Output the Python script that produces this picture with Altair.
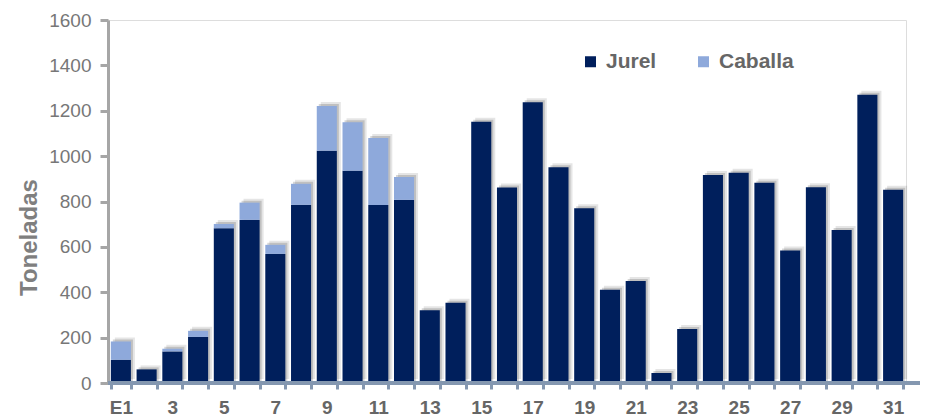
import altair as alt
import pandas as pd

days = ["E1", "2", "3", "4", "5", "6", "7", "8", "9", "10", "11", "12", "13", "14", "15", "16",
        "17", "18", "19", "20", "21", "22", "23", "24", "25", "26", "27", "28", "29", "30", "31"]
jurel = [102, 60, 139, 203, 682, 719, 569, 785, 1024, 935, 785, 807, 321, 354, 1151, 862,
         1237, 951, 770, 411, 450, 44, 238, 917, 927, 883, 584, 863, 674, 1271, 852]
caballa = [81, 0, 12, 27, 19, 76, 40, 93, 197, 214, 295, 101, 0, 0, 0, 0,
           0, 0, 0, 0, 0, 0, 0, 0, 0, 0, 0, 0, 0, 0, 0]
species = ["Jurel", "Caballa"]
colors = ["#001F5C", "#8EA9DB"]
yticks = [0, 200, 400, 600, 800, 1000, 1200, 1400, 1600]

rows = []
for d, j, c in zip(days, jurel, caballa):
    rows.append({"dia": d, "especie": "Jurel", "ton": j, "ord": 0})
    rows.append({"dia": d, "especie": "Caballa", "ton": c, "ord": 1})
df = pd.DataFrame(rows)
tot = pd.DataFrame({"dia": days, "total": [j + c for j, c in zip(jurel, caballa)]})

W, H = 798, 363
FONT = "Liberation Sans"

xscale = alt.Scale(domain=days, paddingInner=0.22, paddingOuter=0.11)
yscale = alt.Scale(domain=[0, 1600])

xaxis = alt.Axis(
    title=None, labelAngle=0, tickBand="extent",
    labelExpr="test(regexp('[13579]$'), datum.label) ? datum.label : ''",
    labelFont=FONT, labelFontSize=19, labelFontWeight="bold", labelColor="#666666",
    labelPadding=9, domainColor="#8497B0", domainWidth=3,
    tickColor="#8497B0", tickWidth=3, tickSize=6, grid=False,
)
yaxis = alt.Axis(
    title="Toneladas", values=yticks, format="d",
    labelFont=FONT, labelFontSize=19, labelColor="#777777", labelPadding=9,
    titleFont=FONT, titleFontSize=24, titleFontWeight="bold", titleColor="#7F7F7F",
    titlePadding=7, titleY=217,
    domainColor="#A6A6A6", domainWidth=3, tickColor="#A6A6A6", tickWidth=3, tickSize=8,
    grid=False,
)

X = alt.X("dia:N", scale=xscale, sort=days, axis=xaxis)

shadow1 = alt.Chart(tot).mark_bar(color="#000000", opacity=0.10, xOffset=4, yOffset=-4).encode(
    x=X, y=alt.Y("total:Q", scale=yscale, axis=yaxis)
)
shadow2 = alt.Chart(tot).mark_bar(color="#000000", opacity=0.16, xOffset=2, yOffset=-2).encode(
    x=X, y=alt.Y("total:Q", scale=yscale, axis=yaxis)
)

bars = alt.Chart(df).mark_bar().encode(
    x=X,
    y=alt.Y("ton:Q", stack="zero", scale=yscale, axis=yaxis),
    color=alt.Color(
        "especie:N",
        scale=alt.Scale(domain=species, range=colors),
        legend=alt.Legend(
            title=None, orient="none", legendX=472, legendY=31, direction="horizontal",
            symbolType="square", symbolSize=121, symbolStrokeWidth=0,
            labelFont=FONT, labelFontSize=21, labelFontWeight="bold", labelColor="#666666",
            columnPadding=36, labelOffset=5,
        ),
    ),
    order=alt.Order("ord:Q", sort="ascending"),
)

axisline = alt.Chart(tot).mark_rule(color="#8497B0", strokeWidth=3).encode(
    x=alt.value(0), x2=alt.value(812), y=alt.value(H)
)

chart = alt.layer(shadow1, shadow2, bars, axisline).properties(
    width=W, height=H,
    autosize=alt.AutoSizeParams(type="none"),
    padding={"left": 100, "top": 12, "right": 14, "bottom": 34},
).configure_view(stroke=None).configure(background="white")

chart.save("out.html", embed_options={"renderer": "svg", "actions": False})
